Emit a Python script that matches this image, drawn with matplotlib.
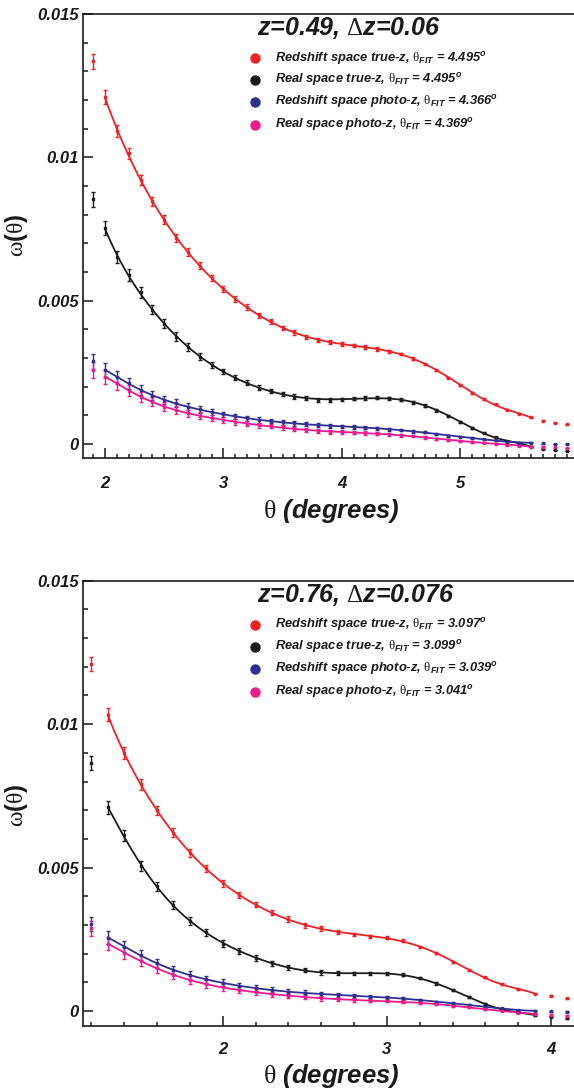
import numpy as np
import matplotlib
matplotlib.use("Agg")
import matplotlib.pyplot as plt
from matplotlib.ticker import MultipleLocator, FuncFormatter

plt.rcParams['mathtext.fontset'] = 'custom'
plt.rcParams['mathtext.rm'] = 'Liberation Serif'
plt.rcParams['mathtext.it'] = 'Liberation Sans:italic:bold'
plt.rcParams['mathtext.bf'] = 'Liberation Sans:bold'
plt.rcParams['font.family'] = ['Liberation Sans', 'DejaVu Sans']

# ---------------- data: panel 1 (z=0.49) ----------------
theta_top = [1.9, 2.0, 2.1, 2.2, 2.3, 2.4, 2.5, 2.6, 2.7, 2.8, 2.9, 3.0, 3.1, 3.2,
             3.3, 3.4, 3.5, 3.6, 3.7, 3.8, 3.9, 4.0, 4.1, 4.2, 4.3, 4.4, 4.5, 4.6,
             4.7, 4.8, 4.9, 5.0, 5.1, 5.2, 5.3, 5.4, 5.5, 5.6, 5.7, 5.8, 5.9]
red_top = [0.01335, 0.0121, 0.01092, 0.01014, 0.0092, 0.00847, 0.00783, 0.0072,
           0.00669, 0.00622, 0.00579, 0.00541, 0.00506, 0.00478, 0.00449, 0.00428,
           0.00405, 0.00389, 0.00373, 0.00364, 0.00355, 0.00349, 0.00344, 0.00338,
           0.00332, 0.00323, 0.00314, 0.00297, 0.0028, 0.00259, 0.00232, 0.00206,
           0.00179, 0.00157, 0.00138, 0.00119, 0.00105, 0.00093, 0.00082, 0.00075,
           0.00069]
black_top = [0.00853, 0.00754, 0.00653, 0.00589, 0.00529, 0.00469, 0.0042, 0.00375,
             0.00338, 0.00305, 0.00276, 0.00253, 0.00232, 0.00214, 0.00197, 0.00185,
             0.00174, 0.00165, 0.0016, 0.00154, 0.00154, 0.00156, 0.00158, 0.00161,
             0.00162, 0.0016, 0.00154, 0.00146, 0.00134, 0.00117, 0.00098, 0.00077,
             0.00057, 0.0004, 0.00024, 0.0001, 0.0, -0.00009, -0.00017, -0.00021,
             -0.00024]
blue_top = [0.00288, 0.00259, 0.00233, 0.00212, 0.00189, 0.00169, 0.00154, 0.00142,
            0.0013, 0.00121, 0.00111, 0.00103, 0.00096, 0.0009, 0.00084, 0.0008,
            0.00076, 0.00072, 0.00069, 0.00066, 0.00064, 0.00062, 0.00059, 0.00057,
            0.00055, 0.00051, 0.00049, 0.00045, 0.00041, 0.00034, 0.00029, 0.00026,
            0.00021, 0.00016, 0.00013, 0.00008, 0.00005, 0.00005, 0.00002, 0.0, 0.0]
pink_top = [0.00259, 0.00235, 0.00212, 0.00186, 0.00165, 0.00148, 0.0013, 0.00119,
            0.00107, 0.00099, 0.0009, 0.00084, 0.00077, 0.00071, 0.00066, 0.00063,
            0.00058, 0.00052, 0.00049, 0.00045, 0.00043, 0.00042, 0.0004, 0.00038,
            0.00036, 0.00034, 0.00031, 0.00028, 0.00023, 0.00017, 0.00014, 0.0001,
            0.00008, 0.00005, 0.00001, -0.00002, -0.00006, -0.00009, -0.00009,
            -0.00012, -0.00014]
err_top = [0.00027, 0.00024, 0.00022, 0.0002, 0.00018, 0.00016, 0.00015, 0.00014,
           0.00013, 0.00012, 0.00011, 0.0001, 0.0001, 0.00009, 0.00009, 0.00008,
           0.00008, 0.00008, 0.00007, 0.00007, 0.00007, 0.00006, 0.00006, 0.00006,
           0.00006, 0.00005, 0.00005, 0.00005, 0.00004, 0.00004, 0.00003, 0.00003,
           0.00003, 0.00002, 0.00002, 0.00002, 0.00002, 0.00002, 0.00001, 0.00001,
           0.00001]
fit_range_top = (2.0, 5.6)
fit_theta_top = ['4.495', '4.495', '4.366', '4.369']

# ---------------- data: panel 2 (z=0.76) ----------------
theta_bot = [1.2, 1.3, 1.4, 1.5, 1.6, 1.7, 1.8, 1.9, 2.0, 2.1, 2.2, 2.3, 2.4, 2.5,
             2.6, 2.7, 2.8, 2.9, 3.0, 3.1, 3.2, 3.3, 3.4, 3.5, 3.6, 3.7, 3.8, 3.9,
             4.0, 4.1]
red_bot = [0.01209, 0.01033, 0.00899, 0.0079, 0.00700, 0.00622, 0.00551, 0.00497,
           0.00446, 0.00404, 0.00371, 0.00342, 0.00321, 0.00299, 0.00288, 0.00274,
           0.00267, 0.00261, 0.00255, 0.00245, 0.00224, 0.00201, 0.00172, 0.00143,
           0.00117, 0.00094, 0.00075, 0.00061, 0.00053, 0.00044]
black_bot = [0.00864, 0.0071, 0.00612, 0.00505, 0.00435, 0.00369, 0.00314, 0.00274,
             0.00235, 0.0021, 0.00186, 0.00166, 0.00152, 0.00143, 0.00135, 0.00131,
             0.00131, 0.00131, 0.00131, 0.00126, 0.00114, 0.00096, 0.00073, 0.00048,
             0.00024, 0.00006, -0.00005, -0.00014, -0.0002, -0.00025]
blue_bot = [0.00303, 0.00256, 0.00224, 0.00195, 0.00166, 0.00143, 0.00125, 0.0011,
            0.00099, 0.00088, 0.00079, 0.00073, 0.00067, 0.00064, 0.00059, 0.00056,
            0.00053, 0.0005, 0.00048, 0.00044, 0.00038, 0.00032, 0.00027, 0.00021,
            0.00015, 0.00009, 0.00003, 0.00001, -0.00001, -0.00003]
pink_bot = [0.00288, 0.00235, 0.00203, 0.00175, 0.00149, 0.00125, 0.00108, 0.00094,
            0.00082, 0.00073, 0.00065, 0.00059, 0.00053, 0.0005, 0.00044, 0.00041,
            0.00038, 0.00036, 0.00035, 0.00032, 0.00029, 0.00024, 0.00017, 0.00013,
            0.00006, 0.00001, -0.00006, -0.0001, -0.00014, -0.00016]
err_bot = [0.00025, 0.00022, 0.0002, 0.00018, 0.00016, 0.00015, 0.00014, 0.00013,
           0.00012, 0.00011, 0.0001, 0.00009, 0.00009, 0.00008, 0.00008, 0.00007,
           0.00006, 0.00005, 0.00005, 0.00005, 0.00004, 0.00004, 0.00003, 0.00003,
           0.00003, 0.00002, 0.00002, 0.00002, 0.00002, 0.00002]
fit_range_bot = (1.3, 3.9)
fit_theta_bot = ['3.097', '3.099', '3.039', '3.041']

series_names = ['Redshift space true-z', 'Real space true-z',
                'Redshift space photo-z', 'Real space photo-z']
colors = ['#ec2227', '#1e1c1c', '#2e3192', '#ec1c8e']

W, H = 574, 1090
fig = plt.figure(figsize=(W / 100, H / 100), dpi=100)

BI = dict(family=['Liberation Sans', 'DejaVu Sans'], weight='bold', style='italic')


def make_panel(rect_px, xlim, ylim, minor_x, theta, series, err, fit_range,
               fit_thetas, title, xlabel_y, ylabel_y, xpad):
    left, top, right, bottom = rect_px
    ax = fig.add_axes([left / W, 1 - bottom / H, (right - left) / W, (bottom - top) / H])
    ax.set_xlim(*xlim)
    ax.set_ylim(*ylim)
    ax.spines['right'].set_visible(False)
    for s in ['left', 'bottom', 'top']:
        ax.spines[s].set_linewidth(1.2)
        ax.spines[s].set_color('#1a1a1a')
    ax.xaxis.set_major_locator(MultipleLocator(1))
    ax.xaxis.set_minor_locator(MultipleLocator(minor_x))
    ax.yaxis.set_major_locator(MultipleLocator(0.005))
    ax.yaxis.set_minor_locator(MultipleLocator(0.001))
    ax.yaxis.set_major_formatter(FuncFormatter(lambda v, p: f"{round(v, 6):g}"))
    ax.xaxis.set_major_formatter(FuncFormatter(lambda v, p: f"{int(round(v))}"))
    ax.tick_params(which='both', direction='in', top=False, right=False,
                   width=1.1, color='#1a1a1a')
    ax.tick_params(axis='y', which='major', length=7, pad=3)
    ax.tick_params(axis='y', which='minor', length=3.5)
    ax.tick_params(axis='x', which='major', length=7, pad=xpad)
    ax.tick_params(axis='x', which='minor', length=3.2)
    for lab in ax.get_xticklabels() + ax.get_yticklabels():
        lab.set_fontfamily(['Liberation Sans', 'DejaVu Sans'])
        lab.set_fontweight('bold')
        lab.set_fontstyle('italic')
        lab.set_fontsize(12)
        lab.set_color('#1a1a1a')

    th = np.array(theta)
    e = np.array(err)
    for vals, col in zip(series, colors):
        v = np.array(vals)
        m = (th >= fit_range[0] - 1e-9) & (th <= fit_range[1] + 1e-9)
        poly = np.polynomial.Polynomial.fit(th[m], v[m], 9)
        xs = np.linspace(fit_range[0], fit_range[1], 300)
        ax.plot(xs, poly(xs), color=col, lw=1.3, zorder=2)
        ax.errorbar(th, v, yerr=e, fmt='s', ms=1.5, color=col, ecolor=col,
                    elinewidth=1.0, capsize=1.6, capthick=1.0, zorder=3)

    ax_h = bottom - top
    ax_w = right - left
    # title
    ax.text((257 - left) / ax_w, 1 - 14 / ax_h, title, transform=ax.transAxes,
            fontsize=18, ha='left', va='center', color='#1a1a1a', **BI)
    rows = [44, 66, 88, 111]
    for i, (nm, col, ft) in enumerate(zip(series_names, colors, fit_thetas)):
        yy = 1 - rows[i] / ax_h
        ax.plot([(255 - left) / ax_w], [yy], 'o', ms=6.5, color=col,
                transform=ax.transAxes, clip_on=False)
        ax.text((275 - left) / ax_w, yy,
                nm + r", $\mathrm{\theta}_{\mathit{FIT}}$ = " + ft + r"$^{\mathit{o}}$",
                transform=ax.transAxes, fontsize=9.3, ha='left', va='center',
                color='#1a1a1a', **BI)
    fig.text(331 / W, 1 - xlabel_y / H, r"$\mathrm{\theta}$ (degrees)", fontsize=18.5,
             ha='center', va='center', color='#1a1a1a', **BI)
    fig.text(17 / W, 1 - ylabel_y / H, r"$\mathrm{\omega}$($\mathrm{\theta}$)",
             fontsize=17, rotation=90, ha='center', va='center', color='#1a1a1a',
             family=['Liberation Sans', 'DejaVu Sans'], weight='bold')
    return ax


make_panel((83, 14, 574, 458), (1.814, 5.963), (-0.000488, 0.015), 0.1,
           theta_top, [red_top, black_top, blue_top, pink_top], err_top,
           fit_range_top, fit_theta_top, r"z=0.49, $\mathrm{\Delta}$z=0.06",
           511, 235, 13)
make_panel((83, 580.7, 574, 1025.7), (1.149, 4.14), (-0.000512, 0.015), 0.2,
           theta_bot, [red_bot, black_bot, blue_bot, pink_bot], err_bot,
           fit_range_bot, fit_theta_bot, r"z=0.76, $\mathrm{\Delta}$z=0.076",
           1076, 805, 11.5)

fig.savefig("out.png", dpi=100)
